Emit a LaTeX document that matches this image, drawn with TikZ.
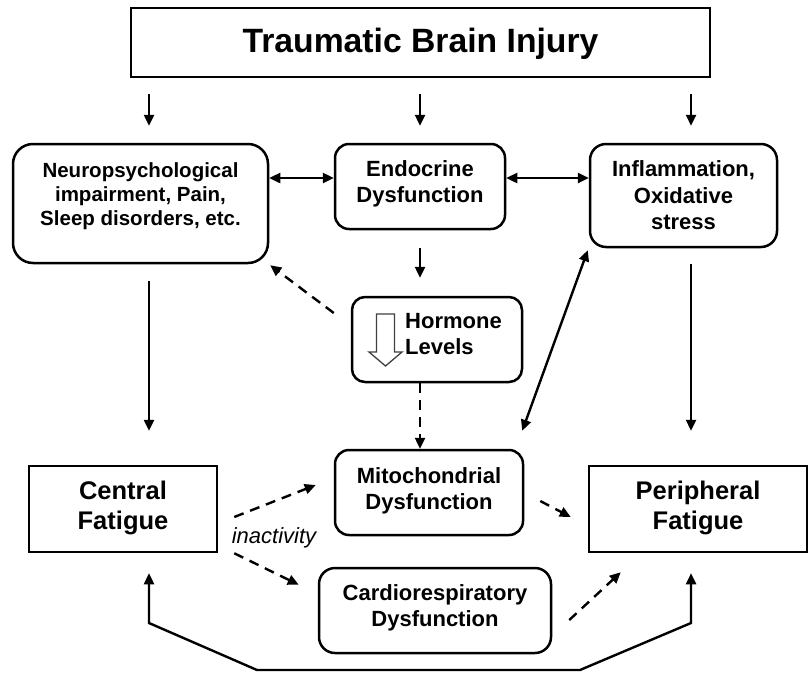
\documentclass[tikz,border=0pt]{standalone}
\usepackage{fontspec}
\setmainfont{Liberation Sans}
\usetikzlibrary{arrows.meta,calc}
\tikzset{
  rbox/.style={draw, line width=2.5pt, rounded corners=#1, inner sep=0pt},
  rbox/.default=14pt,
  sqbox/.style={draw, line width=2.5pt, inner sep=0pt},
  lbl/.style={align=center, inner sep=0pt, font=\bfseries\fontsize{22}{26}\selectfont},
  arr/.style={line width=2.4pt, -{Triangle[length=11pt,width=10pt]}},
  darr/.style={line width=2.4pt, {Triangle[length=11pt,width=10pt]}-{Triangle[length=11pt,width=10pt]}},
  dsh/.style={arr, dash pattern=on 10pt off 7pt},
}
\begin{document}
\begin{tikzpicture}[x=1pt,y=-1pt]
\fill[white] (0,0) rectangle (810,672);
\useasboundingbox (0,0) rectangle (810,672);

% column / row helpers
\coordinate (colL) at (149,0);
\coordinate (colM) at (420,0);
\coordinate (colR) at (691,0);
\coordinate (rowA) at (0,178);

% boxes
\node[sqbox, minimum width=579pt, minimum height=69pt] (title) at (420.5,42.5) {};
\node[rbox=20pt, minimum width=255pt, minimum height=119pt] (neuro) at (140.5,203.5) {};
\node[rbox, minimum width=170pt, minimum height=85pt] (endo) at (420,186.5) {};
\node[rbox=16pt, minimum width=187pt, minimum height=103pt] (inflam) at (683.5,195.5) {};
\node[rbox=13pt, minimum width=170pt, minimum height=85pt] (horm) at (437,339.5) {};
\node[rbox, minimum width=188pt, minimum height=85pt] (mito) at (429,492.5) {};
\node[sqbox, minimum width=188pt, minimum height=86pt] (central) at (123,509) {};
\node[sqbox, minimum width=218pt, minimum height=86pt] (periph) at (698,509) {};
\node[rbox=16pt, minimum width=232pt, minimum height=85pt] (cardio) at (435,610.5) {};

% texts
\node[lbl, font=\bfseries\fontsize{33.7}{40}\selectfont] (title-t) at (420.5,43.3) {Traumatic Brain Injury};
\node[lbl, font=\bfseries\fontsize{20.5}{24}\selectfont] (neuro-t) at (140.5,196) {Neuropsychological\\impairment, Pain,\\Sleep disorders, etc.};
\node[lbl] (endo-t) at (420,184.3) {Endocrine\\Dysfunction};
\node[lbl, font=\bfseries\fontsize{22}{26.5}\selectfont] (inflam-t) at (683.5,195.5) {Inflammation,\\Oxidative\\stress};
\node[lbl, align=left, anchor=west] (horm-t) at (405,334) {Hormone\\Levels};
\node[lbl] (mito-t) at (429,490.5) {Mitochondrial\\Dysfunction};
\node[lbl] (cardio-t) at (435,608) {Cardiorespiratory\\Dysfunction};
\node[lbl, font=\bfseries\fontsize{25.5}{29.5}\selectfont] (central-t) at (123,508) {Central\\Fatigue};
\node[lbl, font=\bfseries\fontsize{25.5}{30}\selectfont] (periph-t) at (698,508) {Peripheral\\Fatigue};
\node[inner sep=0pt, font=\itshape\fontsize{22}{26}\selectfont] (inact) at (274,538) {inactivity};

% hollow down arrow inside hormone box
\draw[line width=1.3pt, black!75, line join=miter] (376.5,314) -- (394.5,314) -- (394.5,352) -- (402,352) -- (385.5,366) -- (369,352) -- (376.5,352) -- cycle;

% arrows from title
\draw[arr] ($(title.south -| colL)+(0,16)$) -- ($(neuro.north -| colL)+(0,-17)$);
\draw[arr] ($(title.south -| colM)+(0,16)$) -- ($(endo.north -| colM)+(0,-17)$);
\draw[arr] ($(title.south -| colR)+(0,16)$) -- ($(inflam.north -| colR)+(0,-17)$);

% double arrows top row
\draw[darr] (neuro.east |- rowA) -- (endo.west |- rowA);
\draw[darr] (endo.east |- rowA) -- (inflam.west |- rowA);

% endocrine -> hormone
\draw[arr] ($(endo.south -| colM)+(0,18)$) -- ($(horm.north -| colM)+(0,-18)$);

% hormone -> neuro (dashed)
\draw[dsh] ($(horm.west)+(-17,-26.5)$) -- ($(neuro.south east)+(1,1)$);
% hormone -> mito (dashed)
\draw[dsh] (horm.south -| colM) -- (mito.north -| colM);

% inflammation <-> mito
\draw[darr] ($(inflam.south west)+(-1,2)$) -- ($(mito.north east)+(-2,-18)$);

% vertical arrows to fatigue boxes
\draw[arr] ($(neuro.south -| colL)+(0,17)$) -- ($(central.north -| colL)+(0,-34)$);
\draw[arr] ($(inflam.south -| colR)+(0,16)$) -- ($(periph.north -| colR)+(0,-34)$);

% dashed inactivity arrows
\draw[dsh] ($(central.east)+(16,8)$) -- ($(mito.west)+(-18,-7.5)$);
\draw[dsh] ($(central.south east)+(16,0)$) -- ($(cardio.north west)+(-19,18)$);
\draw[dsh] ($(mito.east)+(16,8.5)$) -- ($(periph.west)+(-17,8)$);
\draw[dsh] ($(cardio.east)+(17,9.5)$) -- ($(periph.south west)+(33,19)$);

% bottom connector
\coordinate (bL1) at (149,623);
\coordinate (bL2) at (257,670);
\coordinate (bR2) at (580,670);
\coordinate (bR1) at (691,623);
\draw[darr, line join=miter] ($(central.south -| colL)+(0,20)$) -- (bL1) -- (bL2) -- (bR2) -- (bR1) -- ($(periph.south -| colR)+(0,20)$);
\end{tikzpicture}
\end{document}
